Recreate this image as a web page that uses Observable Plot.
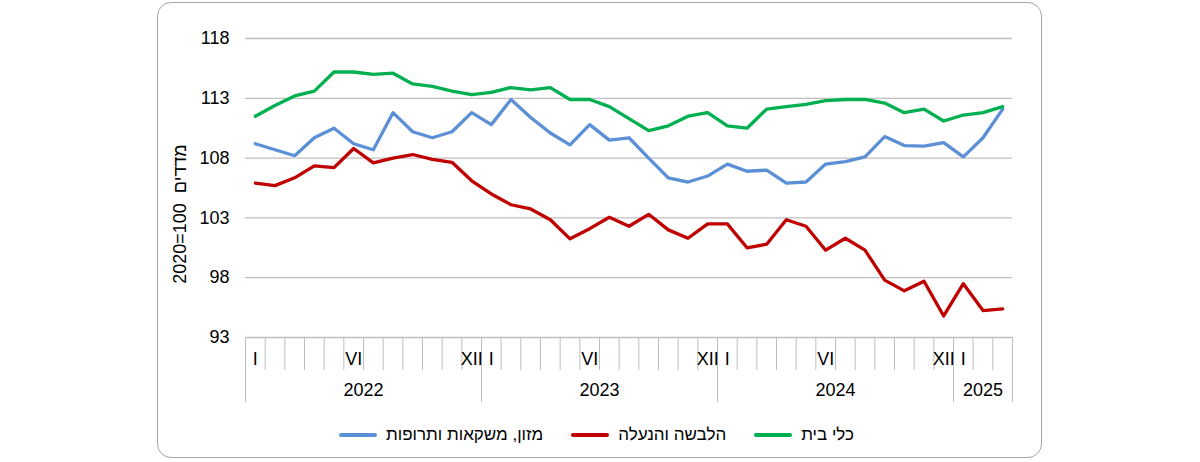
<!DOCTYPE html>
<html>
<head>
<meta charset="utf-8">
<script src="https://cdn.jsdelivr.net/npm/d3@7"></script>
<script src="https://cdn.jsdelivr.net/npm/@observablehq/plot@0.6"></script>
<style>
  body { margin: 0; background: #fff; font-family: "Liberation Sans", Arial, sans-serif; }
  #wrap { position: relative; width: 1200px; height: 462px; }
  #frame { position: absolute; left: 157px; top: 2px; width: 885px; height: 456px; box-sizing: border-box;
           border: 1px solid #a6a6a6; border-radius: 14px; }
  #chart { position: absolute; left: 0; top: 0; }
  #legend { position: absolute; left: 0; top: 424px; width: 1193px; display: flex; justify-content: center;
            align-items: center; font-size: 17px; line-height: 22px; color: #000; }
  .item { display: flex; align-items: center; margin: 0 14px; }
  .sw { width: 38px; height: 4px; border-radius: 2px; margin-right: 9px; }
</style>
</head>
<body>
<div id="wrap">
  <div id="frame"></div>
  <div id="chart"></div>
  <div id="legend"></div>
</div>
<script>
// ---- data ----
const seriesNames = ["מזון, משקאות ותרופות", "הלבשה והנעלה", "כלי בית"];
const seriesColors = ["#5b8fd6", "#c00000", "#00b050"];

const food = [109.2,108.7,108.2,109.7,110.5,109.2,108.7,111.8,110.2,109.7,110.2,111.8,
              110.8,112.9,111.4,110.1,109.1,110.8,109.5,109.7,108.0,106.35,106.0,106.5,
              107.5,106.9,107.0,105.9,106.0,107.5,107.7,108.1,109.8,109.05,109.0,109.3,
              108.1,109.7,112.1];
const clothing = [105.9,105.7,106.35,107.35,107.2,108.8,107.6,108.0,108.3,107.9,107.65,106.1,
                  105.0,104.1,103.75,102.85,101.25,102.1,103.05,102.3,103.3,102.0,101.3,102.5,
                  102.5,100.5,100.8,102.85,102.3,100.3,101.3,100.3,97.8,96.9,97.7,94.8,
                  97.5,95.25,95.4];
const household = [111.5,112.4,113.2,113.6,115.2,115.2,115.0,115.1,114.2,114.0,113.6,113.3,
                   113.5,113.9,113.7,113.9,112.9,112.9,112.3,111.3,110.3,110.7,111.5,111.8,
                   110.7,110.5,112.1,112.3,112.5,112.8,112.9,112.9,112.6,111.8,112.1,111.1,
                   111.6,111.8,112.3];

const years = ["2022", "2023", "2024", "2025"];
const monthsPerYear = [12, 12, 12, 3];
const yearMonthLabels = ["I","","","","","VI","","","","","","XII"];
const yTicks = [93, 98, 103, 108, 113, 118];
const yLabel = "2020=100\u00a0\u00a0מדדים";

// ---- derived ----
const allSeries = [food, clothing, household];
const data = allSeries.flatMap((vals, k) => vals.map((v, i) => ({i, v, name: seriesNames[k]})));
const n = food.length;
const monthLabels = monthsPerYear.flatMap(c => yearMonthLabels.slice(0, c));
const monthBounds = d3.range(n + 1).map(i => i - 0.5);
const yearBounds = [-0.5];
const yearCenters = [];
let acc = 0;
monthsPerYear.forEach(c => { yearCenters.push(acc + (c - 1) / 2); acc += c; yearBounds.push(acc - 0.5); });
const labelTicks = d3.range(n).filter(i => monthLabels[i] !== "");

const chart = Plot.plot({
  width: 1200, height: 420,
  marginTop: 38, marginBottom: 83, marginLeft: 245, marginRight: 188,
  style: {fontFamily: "'Liberation Sans', Arial, sans-serif", fontSize: "18px", color: "#000", background: "transparent", overflow: "visible"},
  x: {domain: [-0.5, n - 0.5]},
  y: {domain: [93, 118]},
  color: {domain: seriesNames, range: seriesColors},
  marks: [
    Plot.gridY(yTicks, {stroke: "#bfbfbf", strokeOpacity: 1, strokeWidth: 1.3}),
    Plot.axisY(yTicks, {tickSize: 0, tickPadding: 16, label: null}),
    Plot.axisX(monthBounds, {tickSize: 33, tickFormat: () => "", stroke: "#bfbfbf", strokeOpacity: 1, label: null}),
    Plot.axisX(yearBounds, {tickSize: 65, tickFormat: () => "", stroke: "#bfbfbf", strokeOpacity: 1, label: null}),
    Plot.axisX(labelTicks, {tickSize: 0, tickPadding: 15, tickFormat: i => monthLabels[i], label: null}),
    Plot.axisX(yearCenters, {tickSize: 0, tickPadding: 46, tickFormat: (d, j) => years[j], label: null}),
    Plot.line(data, {x: "i", y: "v", z: "name", stroke: "name", strokeWidth: 3.3, strokeLinejoin: "round", strokeLinecap: "round"})
  ]
});
document.getElementById("chart").appendChild(chart);

// y-axis title (rotated)
d3.select(chart).append("text")
  .attr("transform", "translate(180,214) rotate(-90)")
  .attr("text-anchor", "middle")
  .attr("dy", "0.35em")
  .attr("font-size", 18)
  .attr("fill", "#000")
  .text(yLabel);

const legend = document.getElementById("legend");
seriesNames.forEach((name, k) => {
  const item = document.createElement("div");
  item.className = "item";
  const sw = document.createElement("div");
  sw.className = "sw";
  sw.style.background = seriesColors[k];
  const t = document.createElement("span");
  t.dir = "rtl";
  t.textContent = name;
  item.appendChild(sw);
  item.appendChild(t);
  legend.appendChild(item);
});
</script>
</body>
</html>
